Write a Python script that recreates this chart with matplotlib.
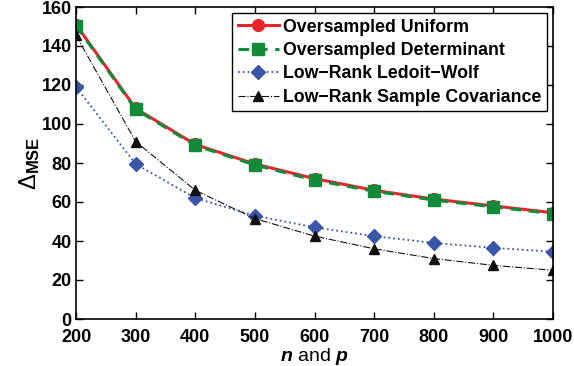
import numpy as np
import matplotlib.pyplot as plt

plt.rcParams['font.family'] = ['Liberation Sans', 'DejaVu Sans']
plt.rcParams['font.weight'] = 'bold'
plt.rcParams['mathtext.fontset'] = 'custom'
plt.rcParams['mathtext.it'] = 'Liberation Sans:bold:italic'
plt.rcParams['mathtext.rm'] = 'Liberation Sans:normal'
plt.rcParams['mathtext.bf'] = 'Liberation Sans:bold'

n_vals = [200, 300, 400, 500, 600, 700, 800, 900, 1000]
uniform = [151, 108, 89.5, 79.5, 72, 66, 61.5, 58, 54.5]
determinant = [150.5, 107.5, 89, 79, 71.2, 65.5, 61, 57.5, 54]
ledoit_wolf = [119, 79.5, 62, 53, 47, 42.5, 39, 36.5, 34.5]
sample_cov = [145.5, 91, 66, 51.5, 42.5, 36, 31, 27.5, 25]

fig = plt.figure(figsize=(5.74, 3.66), dpi=100)
ax = fig.add_axes([76 / 574, 1 - 319 / 366, 477 / 574, 312 / 366])

ax.plot(n_vals, uniform, '-o', color='#e8262a', lw=2.2, ms=8.5,
        label='Oversampled Uniform')
ax.plot(n_vals, determinant, '--s', color='#138a3a', lw=2.2, ms=8,
        dashes=(3.5, 2.5), label='Oversampled Determinant')
ax.plot(n_vals, ledoit_wolf, ':D', color='#3a56a8', lw=1.3, ms=7.5,
        label='Low\u2212Rank Ledoit\u2212Wolf')
ax.plot(n_vals, sample_cov, '-.^', color='#111111', lw=0.8, ms=7.5,
        label='Low\u2212Rank Sample Covariance')

ax.set_xlim(200, 1000)
ax.set_ylim(0, 160)
ax.set_xticks(np.arange(200, 1001, 100))
ax.set_yticks(np.arange(0, 161, 20))
ax.tick_params(direction='in', top=True, right=True, labelsize=13,
               length=5, width=1, pad=3)
ax.tick_params(axis='x', pad=7.5)
for s in ax.spines.values():
    s.set_linewidth(1.2)

ax.set_xlabel(r'$\mathit{n}$ and $\mathit{p}$', fontsize=14, labelpad=-0.5)
ax.set_ylabel(r'$\mathrm{\Delta}_{\mathbf{MSE}}$', fontsize=17, labelpad=0)

leg = ax.legend(loc='upper right', fontsize=12.8, frameon=True, fancybox=False,
                edgecolor='black', framealpha=1, borderpad=0.3,
                labelspacing=0.36, handlelength=2.3, handletextpad=0.25,
                borderaxespad=0.35)
leg.get_frame().set_linewidth(1.0)

fig.savefig('out.png', dpi=100)
